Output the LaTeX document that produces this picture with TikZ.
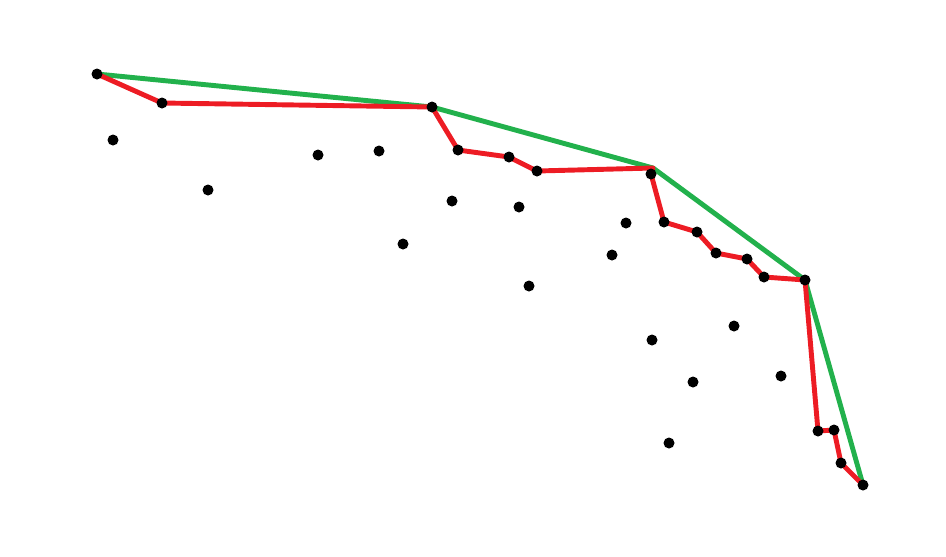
\documentclass[tikz,border=0pt]{standalone}
\usepackage{tikz}
\definecolor{hullgreen}{HTML}{22B14C}
\definecolor{pathred}{HTML}{ED1C24}
\tikzset{
  hull/.style={draw=hullgreen, line width=2.8pt, line join=round},
  walk/.style={draw=pathred, line width=2.8pt, line join=round},
  dot/.style={fill=black}
}

\begin{document}
\begin{tikzpicture}[x=0.02cm, y=-0.02cm]
\useasboundingbox (0,0) rectangle (946,556);
% points on the red chain
\coordinate (a) at (97,74);
\coordinate (b) at (162,103);
\coordinate (c) at (432,107);
\coordinate (d) at (458,150);
\coordinate (e) at (509,157);
\coordinate (f) at (537,171);
\coordinate (g) at (653,168);
\coordinate (h) at (651,174);
\coordinate (i) at (664,222);
\coordinate (j) at (697,232);
\coordinate (k) at (716,253);
\coordinate (l) at (747,259);
\coordinate (m) at (764,277);
\coordinate (n) at (805,280);
\coordinate (o) at (818,431);
\coordinate (p) at (834,430);
\coordinate (q) at (841,463);
\coordinate (r) at (863,485);
% loose points
\coordinate (s1) at (113,140);
\coordinate (s2) at (208,190);
\coordinate (s3) at (318,155);
\coordinate (s4) at (379,151);
\coordinate (s5) at (403,244);
\coordinate (s6) at (452,201);
\coordinate (s7) at (519,207);
\coordinate (s8) at (529,286);
\coordinate (s9) at (612,255);
\coordinate (s10) at (626,223);
\coordinate (s11) at (652,340);
\coordinate (s12) at (669,443);
\coordinate (s13) at (693,382);
\coordinate (s14) at (734,326);
\coordinate (s15) at (781,376);
% green hull
\draw[hull] (a) -- (c) -- (g) -- (n) -- (r);
% red chain
\draw[walk] (a) -- (b) -- (c) -- (d) -- (e) -- (f) -- (g) -- (h) -- (i) -- (j) -- (k)
  -- (l) -- (m) -- (n) -- (o) -- (p) -- (q) -- (r);
% dots
\foreach \pt in {a,b,c,d,e,f,h,i,j,k,l,m,n,o,p,q,r}
  \fill[dot] (\pt) circle (5.5);
\foreach \pt in {1,...,15}
  \fill[dot] (s\pt) circle (5.5);
\end{tikzpicture}
\end{document}
